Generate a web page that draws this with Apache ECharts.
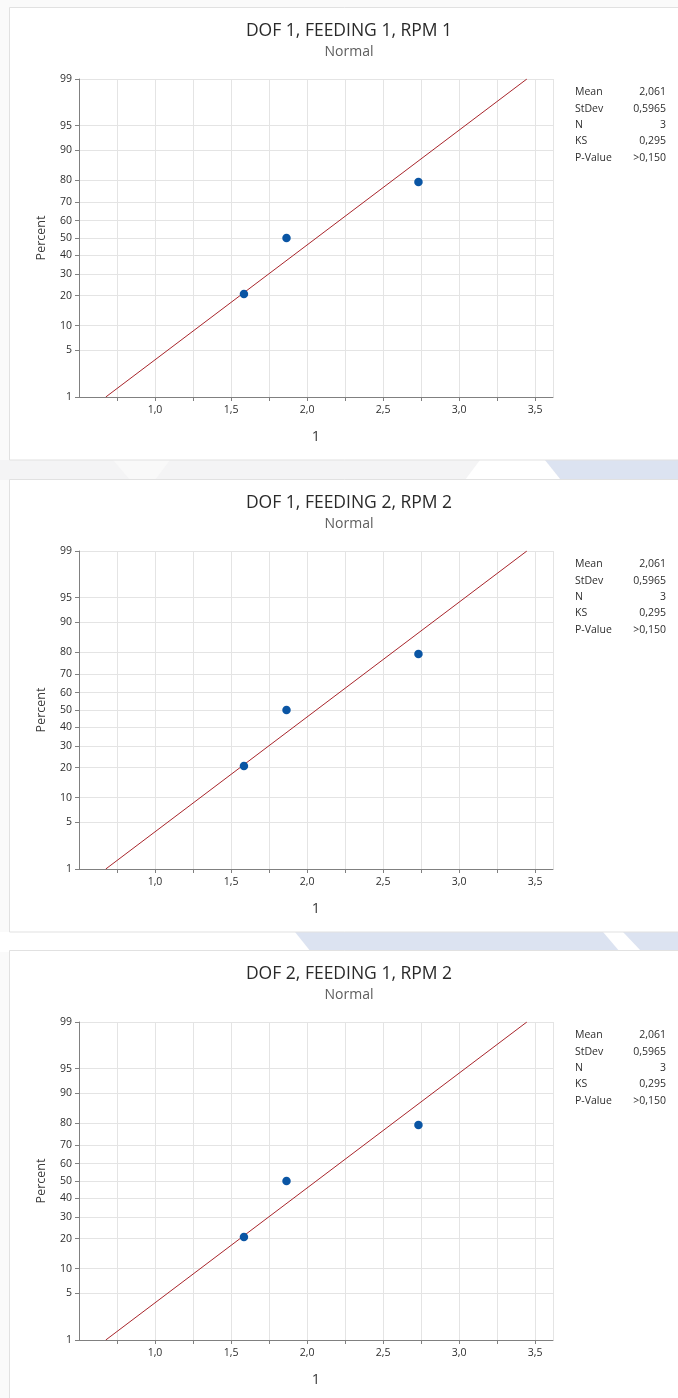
<!DOCTYPE html>
<html>
<head>
<meta charset="utf-8">
<script src="https://cdn.jsdelivr.net/npm/echarts@6.0.0/dist/echarts.min.js"></script>
<style>
  html, body { margin: 0; padding: 0; background: #fafafa; }
  #main { width: 678px; height: 1398px; }
</style>
</head>
<body>
<div id="main"></div>
<script>
"use strict";

// chart data (same sample in all three panels)
const panelTitles = ["DOF 1, FEEDING 1, RPM 1", "DOF 1, FEEDING 2, RPM 2", "DOF 2, FEEDING 1, RPM 2"];
const sampleX = [1.585, 1.865, 2.733];
const samplePct = [20.6, 50, 79.4];
const fitX = [0.676, 3.446];
const fitPct = [1, 99];
const percentTicks = [1, 5, 10, 20, 30, 40, 50, 60, 70, 80, 90, 95, 99];
const xLabels = [1.0, 1.5, 2.0, 2.5, 3.0, 3.5];
const statNames = ["Mean", "StDev", "N", "KS", "P-Value"];
const statValues = ["2,061", "0,5965", "3", "0,295", ">0,150"];

// inverse normal cdf, used to put percents on the probability scale
function probit(p) {
  const a = [-39.69683028665376, 220.9460984245205, -275.9285104469687, 138.3577518672690, -30.66479806614716, 2.506628277459239];
  const b = [-54.47609879822406, 161.5858368580409, -155.6989798598866, 66.80131188771972, -13.28068155288572];
  const c = [-0.007784894002430293, -0.3223964580411365, -2.400758277161838, -2.549671348283429, 4.374664141464968, 2.938163982698783];
  const d = [0.007784695709041462, 0.3224671290700398, 2.445134137142996, 3.754408661907416];
  const pl = 0.02425;
  let q, r;
  if (p < pl) {
    q = Math.sqrt(-2 * Math.log(p));
    return (((((c[0] * q + c[1]) * q + c[2]) * q + c[3]) * q + c[4]) * q + c[5]) /
      ((((d[0] * q + d[1]) * q + d[2]) * q + d[3]) * q + 1);
  }
  if (p > 1 - pl) {
    q = Math.sqrt(-2 * Math.log(1 - p));
    return -(((((c[0] * q + c[1]) * q + c[2]) * q + c[3]) * q + c[4]) * q + c[5]) /
      ((((d[0] * q + d[1]) * q + d[2]) * q + d[3]) * q + 1);
  }
  q = p - 0.5;
  r = q * q;
  return (((((a[0] * r + a[1]) * r + a[2]) * r + a[3]) * r + a[4]) * r + a[5]) * q /
    (((((b[0] * r + b[1]) * r + b[2]) * r + b[3]) * r + b[4]) * r + 1);
}

const zTicks = percentTicks.map((p) => probit(p / 100));
const zMin = zTicks[0];
const zMax = zTicks[zTicks.length - 1];

function pctLabel(v) {
  let best = 0;
  zTicks.forEach((z, i) => {
    if (Math.abs(z - v) < Math.abs(zTicks[best] - v)) best = i;
  });
  return String(percentTicks[best]);
}

const FONT = "Open Sans";
const offsets = [0, 472, 943];

let chartDom = document.getElementById("main");
let myChart = echarts.init(chartDom, null, { renderer: "canvas" });

let grids = [], xAxes = [], yAxes = [], series = [];
let graphics = [
  // page background bands between the cards
  { type: "rect", shape: { x: 0, y: 0, width: 678, height: 1398 }, style: { fill: "#fafafa" }, silent: true },
  { type: "rect", shape: { x: 0, y: 460, width: 678, height: 20 }, style: { fill: "#f4f4f5" }, silent: true },
  { type: "polygon", shape: { points: [[113, 460], [170, 460], [155, 480], [130, 480]] }, style: { fill: "#f9f9f9" }, silent: true },
  { type: "polygon", shape: { points: [[480, 460], [545, 460], [561, 480], [465, 480]] }, style: { fill: "#ffffff" }, silent: true },
  { type: "polygon", shape: { points: [[545, 460], [678, 460], [678, 480], [561, 480]] }, style: { fill: "#dce3f1" }, silent: true },
  { type: "rect", shape: { x: 0, y: 932, width: 678, height: 20 }, style: { fill: "#ffffff" }, silent: true },
  { type: "polygon", shape: { points: [[295, 932], [603, 932], [620, 952], [311, 952]] }, style: { fill: "#dce3f1" }, silent: true },
  { type: "polygon", shape: { points: [[623, 932], [678, 932], [678, 952], [642, 952]] }, style: { fill: "#dce3f1" }, silent: true },
];

offsets.forEach((off, k) => {
  // card
  graphics.push({
    type: "rect",
    shape: { x: 9.5, y: 7.5 + off, width: 700, height: k === 2 ? 470 : 452.5 },
    style: { fill: "#ffffff", stroke: "#e1e1e1", lineWidth: 1 },
    silent: true,
  });
  graphics.push({
    type: "text", x: 349, y: 31.5 + off, silent: true,
    style: { text: panelTitles[k], fill: "#2a2a2a", font: "17.5px '" + FONT + "'", align: "center", verticalAlign: "middle" },
  });
  graphics.push({
    type: "text", x: 349, y: 52.5 + off, silent: true,
    style: { text: "Normal", fill: "#5e5e5e", font: "14px '" + FONT + "'", align: "center", verticalAlign: "middle" },
  });
  statNames.forEach((name, i) => {
    graphics.push({
      type: "text", x: 575, y: 92.5 + off + i * 16.3, silent: true,
      style: { text: name, fill: "#2e2e2e", font: "10.5px '" + FONT + "'", align: "left", verticalAlign: "middle" },
    });
    graphics.push({
      type: "text", x: 666, y: 92.5 + off + i * 16.3, silent: true,
      style: { text: statValues[i], fill: "#2e2e2e", font: "10.5px '" + FONT + "'", align: "right", verticalAlign: "middle" },
    });
  });

  grids.push({
    left: 79, top: 79 + off, width: 474, height: 318,
    show: true, backgroundColor: "#ffffff", borderColor: "#808080", borderWidth: 1,
  });

  xAxes.push({
    gridIndex: k,
    type: "value",
    min: 0.5,
    max: 3.618,
    interval: 0.25,
    name: "1",
    nameLocation: "middle",
    nameGap: 32,
    nameTextStyle: { fontFamily: FONT, fontSize: 14.5, color: "#3c3c3c" },
    axisLine: { show: true, onZero: false, lineStyle: { color: "#808080", width: 1 } },
    axisTick: { show: true, length: 4, lineStyle: { color: "#808080" } },
    axisLabel: {
      fontFamily: FONT, fontSize: 10.5, color: "#2e2e2e", margin: 8,
      showMinLabel: false, showMaxLabel: false,
      formatter: (v) => {
        const hit = xLabels.find((t) => Math.abs(t - v) < 1e-6);
        return hit === undefined ? "" : hit.toFixed(1).replace(".", ",");
      },
    },
    splitLine: { show: true, lineStyle: { color: "#e4e4e4", width: 1 } },
  });

  yAxes.push({
    gridIndex: k,
    type: "value",
    min: zMin,
    max: zMax,
    name: "Percent",
    nameLocation: "middle",
    nameGap: 31,
    nameTextStyle: { fontFamily: FONT, fontSize: 12.5, color: "#3c3c3c" },
    axisLine: { show: true, onZero: false, lineStyle: { color: "#808080", width: 1 } },
    axisTick: { show: true, length: 4, customValues: zTicks, lineStyle: { color: "#808080" } },
    axisLabel: {
      fontFamily: FONT, fontSize: 10.5, color: "#2e2e2e", margin: 7,
      customValues: zTicks,
      formatter: pctLabel,
    },
    splitLine: { show: true, lineStyle: { color: "#e4e4e4", width: 1 } },
  });

  series.push({
    type: "line",
    xAxisIndex: k,
    yAxisIndex: k,
    data: fitX.map((x, i) => [x, probit(fitPct[i] / 100)]),
    showSymbol: false,
    silent: true,
    lineStyle: { color: "#a8252b", width: 1 },
    z: 3,
  });
  series.push({
    type: "scatter",
    xAxisIndex: k,
    yAxisIndex: k,
    data: sampleX.map((x, i) => [x, probit(samplePct[i] / 100)]),
    symbol: "circle",
    symbolSize: 8.5,
    itemStyle: { color: "#0a55a4", opacity: 1 },
    z: 4,
  });
});

let option = {
  animation: false,
  graphic: { elements: graphics },
  grid: grids,
  xAxis: xAxes,
  yAxis: yAxes,
  series: series,
};

option && myChart.setOption(option);
</script>
</body>
</html>
